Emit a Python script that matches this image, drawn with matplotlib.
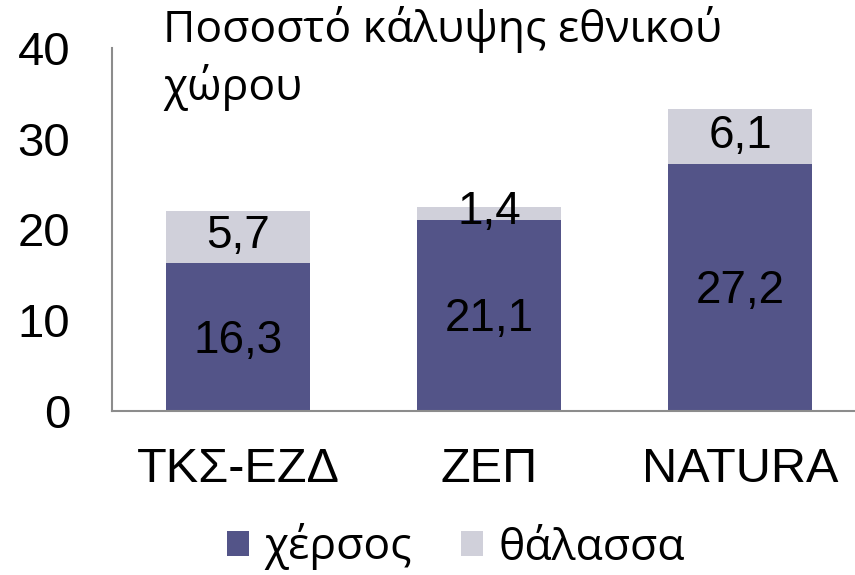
#!/usr/bin/env python3
"""Stacked bars: land/sea coverage of protected areas."""
import matplotlib
matplotlib.use("Agg")
import matplotlib.pyplot as plt
from matplotlib.font_manager import FontProperties
import numpy as np

categories = ["ΤΚΣ-ΕΖΔ", "ΖΕΠ", "NATURA"]
land = [16.3, 21.1, 27.2]
sea = [5.7, 1.4, 6.1]
yticks = [0, 10, 20, 30, 40]
title = "Ποσοστό κάλυψης εθνικού\nχώρου"

DARK, LIGHT, AXIS = "#535488", "#D0D0DA", "#8C8C8C"

plt.rcParams["font.family"] = ["Liberation Sans", "DejaVu Sans"]
greek = ["Open Sans", "Noto Sans", "DejaVu Sans"]

fig = plt.figure(figsize=(8.55, 5.75), dpi=100)
W, H = 855, 575
ax = fig.add_axes([112 / W, 1 - 411 / H, (W - 112) / W, (411 - 48) / H])

x = np.arange(len(categories))
bw = 0.574
b1 = ax.bar(x, land, width=bw, color=DARK, label="χέρσος")
b2 = ax.bar(x, sea, width=bw, bottom=land, color=LIGHT, label="θάλασσα")

for i in range(len(categories)):
    ax.text(x[i], land[i] / 2 - 0.4, f"{land[i]:.1f}".replace(".", ","),
            ha="center", va="center", fontsize=33)
    ax.text(x[i], land[i] + sea[i] / 2 + 0.1, f"{sea[i]:.1f}".replace(".", ","),
            ha="center", va="center", fontsize=33)

ax.set_xlim(-0.502, 2.458)
ax.set_ylim(0, 40)
ax.set_yticks(yticks)
ax.set_xticks(x)
ax.set_xticklabels(categories)
ax.tick_params(axis="y", length=0, pad=30, labelsize=34)
ax.tick_params(axis="x", length=0, pad=26, labelsize=35)
for s in ["top", "right"]:
    ax.spines[s].set_visible(False)
for s in ["left", "bottom"]:
    ax.spines[s].set_color(AXIS)
    ax.spines[s].set_linewidth(1.5)

fig.text(163 / W, 1 - 6 / H, title, ha="left", va="top", family=greek, fontsize=32,
         linespacing=1.3)

leg = fig.legend(handles=[b1, b2], loc="center", bbox_to_anchor=(456 / W, 1 - 547 / H),
                 ncol=2, frameon=False, handlelength=0.5, handleheight=0.5,
                 handletextpad=0.35, columnspacing=1.1,
                 prop=FontProperties(family=greek, size=32))

fig.savefig("out.png", dpi=100, facecolor="white")
